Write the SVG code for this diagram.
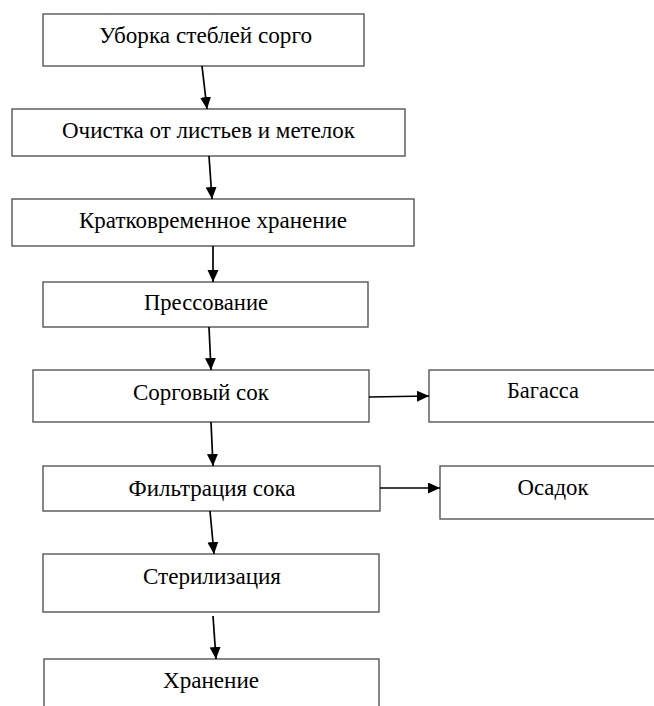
<svg xmlns="http://www.w3.org/2000/svg" width="654" height="706" viewBox="0 0 654 706">
<style>
.box{fill:#fff;stroke:#555;stroke-width:1.4}
.lbl{font-family:"Liberation Serif","Times New Roman",serif;font-size:24px;fill:#000;text-anchor:middle}
.arr{stroke:#000;stroke-width:1.7;fill:none;marker-end:url(#ah)}
</style>
<defs>
<marker id="ah" markerUnits="userSpaceOnUse" markerWidth="14" markerHeight="12" refX="12" refY="5.5" orient="auto">
<path d="M0,0 L12,5.5 L0,11 z" fill="#000"/>
</marker>
</defs>
<rect width="654" height="706" fill="#fff"/>
<g id="n1"><rect class="box" x="43" y="14" width="321" height="52"/><text class="lbl" x="205.5" y="43" textLength="213" lengthAdjust="spacingAndGlyphs">Уборка стеблей сорго</text></g>
<g id="n2"><rect class="box" x="12" y="109" width="393" height="47"/><text class="lbl" x="208.5" y="138" textLength="293" lengthAdjust="spacingAndGlyphs">Очистка от листьев и метелок</text></g>
<g id="n3"><rect class="box" x="12" y="199" width="402" height="47"/><text class="lbl" x="213" y="228" textLength="268" lengthAdjust="spacingAndGlyphs">Кратковременное хранение</text></g>
<g id="n4"><rect class="box" x="43" y="282" width="325" height="45"/><text class="lbl" x="206" y="310" textLength="124" lengthAdjust="spacingAndGlyphs">Прессование</text></g>
<g id="n5"><rect class="box" x="33" y="370" width="336" height="52"/><text class="lbl" x="201" y="400" textLength="136" lengthAdjust="spacingAndGlyphs">Сорговый сок</text></g>
<g id="n6"><rect class="box" x="429" y="370" width="232" height="52"/><text class="lbl" x="543" y="398" textLength="72" lengthAdjust="spacingAndGlyphs">Багасса</text></g>
<g id="n7"><rect class="box" x="43" y="466" width="337" height="45"/><text class="lbl" x="212" y="496" textLength="167" lengthAdjust="spacingAndGlyphs">Фильтрация сока</text></g>
<g id="n8"><rect class="box" x="440" y="466" width="221" height="53"/><text class="lbl" x="553" y="495" textLength="71" lengthAdjust="spacingAndGlyphs">Осадок</text></g>
<g id="n9"><rect class="box" x="43" y="554" width="336" height="58"/><text class="lbl" x="212" y="584" textLength="138" lengthAdjust="spacingAndGlyphs">Стерилизация</text></g>
<g id="n10"><rect class="box" x="44" y="659" width="335" height="60"/><text class="lbl" x="211" y="688" textLength="96" lengthAdjust="spacingAndGlyphs">Хранение</text></g>
<g id="connectors">
<path class="arr" d="M202,66 L207,109"/>
<path class="arr" d="M209,156 L212,199"/>
<path class="arr" d="M213,246 L213,282"/>
<path class="arr" d="M209,327 L211,370"/>
<path class="arr" d="M211,422 L213,466"/>
<path class="arr" d="M210,511 L214,554"/>
<path class="arr" d="M213,616 L216,659"/>
<path class="arr" d="M369,397 L429,396"/>
<path class="arr" d="M380,488 L440,488"/>
</g>
</svg>
